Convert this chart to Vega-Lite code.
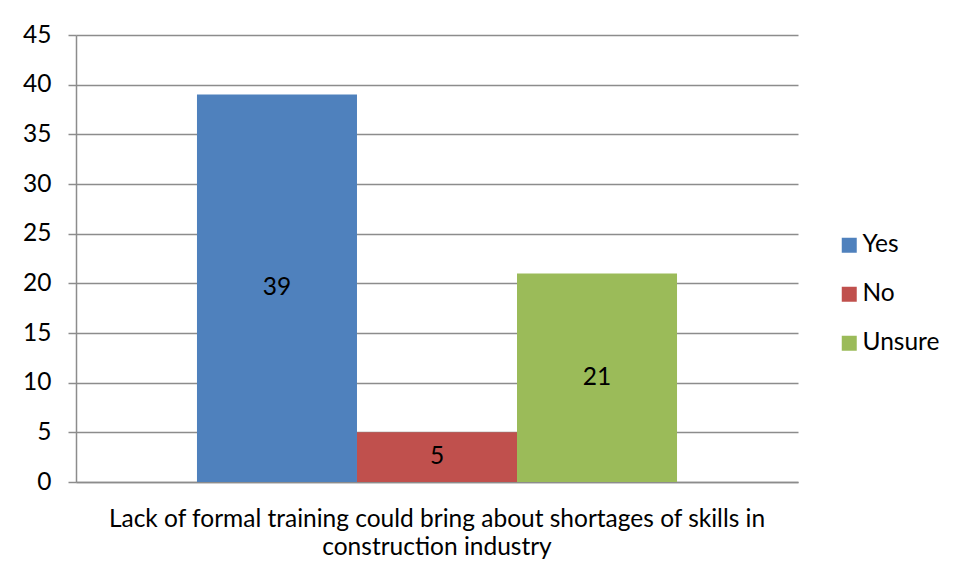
{
  "$schema": "https://vega.github.io/schema/vega-lite/v6.json",
  "autosize": "none",
  "width": 722,
  "height": 447,
  "padding": {"left": 76, "top": 35, "right": 158, "bottom": 96},
  "background": "white",
  "data": {"values": [
    {"question": "Lack of formal training could bring about shortages of skills in construction industry", "answer": "Yes", "value": 39},
    {"question": "Lack of formal training could bring about shortages of skills in construction industry", "answer": "No", "value": 5},
    {"question": "Lack of formal training could bring about shortages of skills in construction industry", "answer": "Unsure", "value": 21}
  ]},
  "config": {
    "font": "Lato",
    "view": {"stroke": null},
    "axis": {"labelFont": "Lato", "labelColor": "#000000", "titleFont": "Lato"}
  },
  "encoding": {
    "x": {
      "field": "question", "type": "nominal",
      "scale": {"paddingInner": 0, "paddingOuter": 0.252},
      "axis": {
        "title": null, "ticks": false, "domainColor": "#8c8c8c", "domainWidth": 1.5,
        "labelAngle": 0, "labelFontSize": 24.5, "labelLimit": 0, "labelPadding": 25, "labelLineHeight": 28,
        "labelExpr": "[substring(datum.label, 0, 64), substring(datum.label, 65)]"
      }
    },
    "xOffset": {"field": "answer", "type": "nominal", "sort": ["Yes", "No", "Unsure"], "scale": {"paddingInner": 0, "paddingOuter": 0}}
  },
  "layer": [
    {
      "mark": {"type": "bar"},
      "encoding": {
        "y": {
          "field": "value", "type": "quantitative",
          "scale": {"domain": [0, 45], "nice": false},
          "axis": {
            "title": null, "values": [0, 5, 10, 15, 20, 25, 30, 35, 40, 45],
            "gridColor": "#8c8c8c", "gridWidth": 1.5, "domainColor": "#8c8c8c", "domainWidth": 1.5,
            "tickColor": "#8c8c8c", "tickWidth": 1.5, "tickSize": 8,
            "labelFontSize": 24.5, "labelPadding": 17
          }
        },
        "color": {
          "field": "answer", "type": "nominal",
          "scale": {"domain": ["Yes", "No", "Unsure"], "range": ["#4f81bd", "#c0504d", "#9bbb59"]},
          "legend": {
            "title": null, "orient": "none", "legendX": 761, "legendY": 198,
            "symbolType": "square", "symbolSize": 225, "symbolStrokeWidth": 0,
            "labelFontSize": 24.5, "labelColor": "#000000", "labelFont": "Lato", "rowPadding": 24, "labelOffset": 1
          }
        }
      }
    },
    {
      "mark": {"type": "text", "fontSize": 24.5, "color": "#000000", "baseline": "middle"},
      "encoding": {
        "y": {"field": "value", "type": "quantitative", "scale": {"domain": [0, 90], "nice": false}, "axis": null},
        "text": {"field": "value", "type": "quantitative"}
      }
    }
  ],
  "resolve": {"scale": {"y": "independent"}}
}
